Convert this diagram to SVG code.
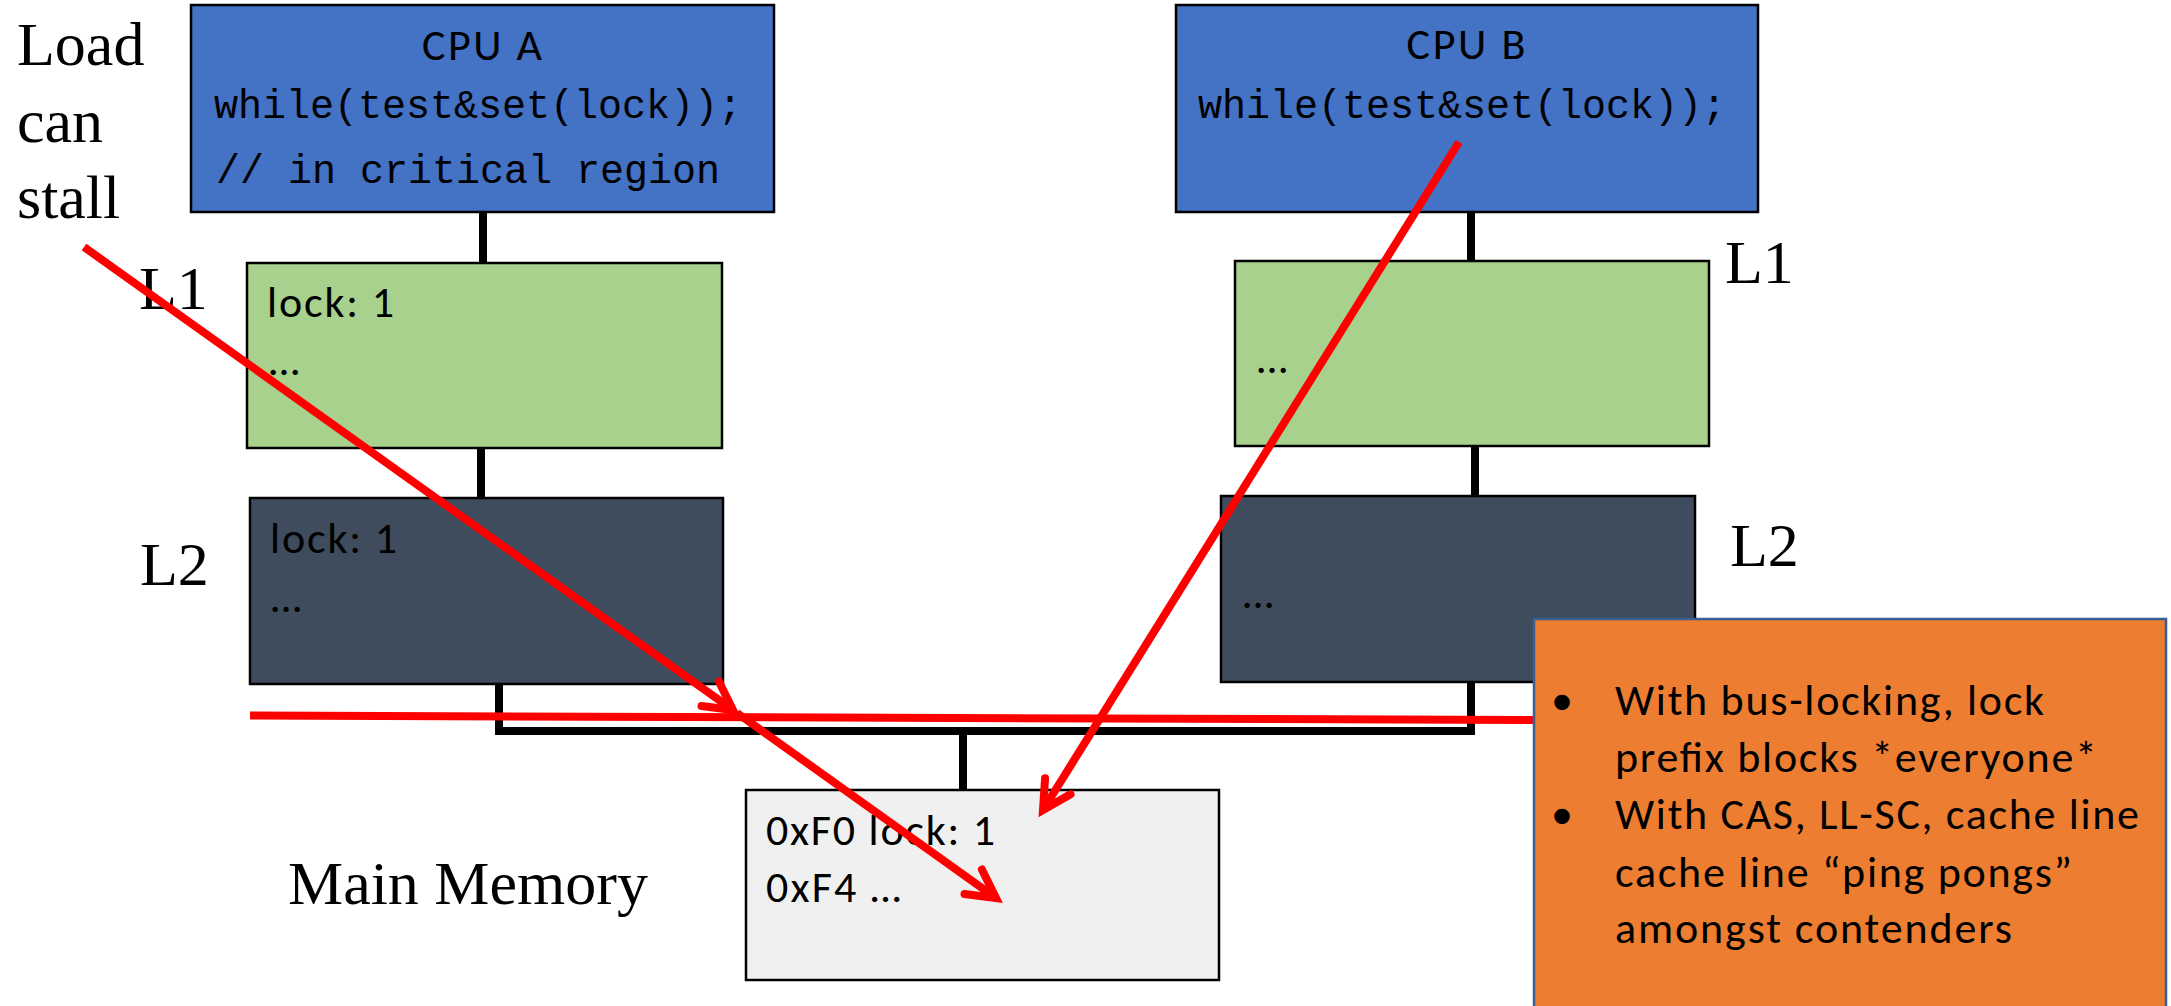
<svg xmlns="http://www.w3.org/2000/svg" width="2171" height="1006" viewBox="0 0 2171 1006">
  <style>
    .box { stroke: #000; stroke-width: 2.5; }
    .cpu { fill: #4472C4; }
    .l1 { fill: #A9D18E; }
    .l2 { fill: #3E4C5E; }
    .mem { fill: #F0F0F0; }
    .note { fill: #ED7D31; stroke: #3A5F95; stroke-width: 2.5; }
    .sans { font-family: Carlito, Lato, "Liberation Sans", sans-serif; font-size: 44px; fill: #000; }
    .mono { font-family: "Liberation Mono", "Courier New", monospace; font-size: 40px; fill: #000; }
    .serif { font-family: "Liberation Serif", "Times New Roman", serif; font-size: 62px; fill: #000; }
    .wire { fill: none; stroke: #000; stroke-width: 8; stroke-linejoin: miter; }
    .red { fill: none; stroke: #FF0000; stroke-width: 8; stroke-linecap: butt; }
  </style>
  <defs>
    <marker id="openArrow" markerUnits="userSpaceOnUse" orient="auto" viewBox="-40 -40 80 80" markerWidth="80" markerHeight="80" refX="0" refY="0" overflow="visible">
      <path d="M-28,-15 L0,0 L-28,15" fill="none" stroke="#FF0000" stroke-width="8" stroke-linecap="round" stroke-linejoin="miter"/>
    </marker>
  </defs>

  <rect width="2171" height="1006" fill="#fff"/>

  <!-- side labels -->
  <g id="labels" class="serif">
    <text x="17" y="65">Load</text>
    <text x="17" y="142">can</text>
    <text x="17" y="218">stall</text>
    <text x="139" y="309">L1</text>
    <text x="1725" y="283">L1</text>
    <text x="140" y="585">L2</text>
    <text x="1730" y="566">L2</text>
    <text x="288" y="904">Main Memory</text>
  </g>

  <!-- black bus and links between levels -->
  <g id="connectors">
    <line class="wire" x1="483" y1="212" x2="483" y2="263"/>
    <line class="wire" x1="481" y1="448" x2="481" y2="498"/>
    <line class="wire" x1="1471" y1="212" x2="1471" y2="261"/>
    <line class="wire" x1="1475" y1="446" x2="1475" y2="496"/>
    <path class="wire" d="M499,681 L499,731 L1471,731 L1471,680"/>
    <line class="wire" x1="963" y1="731" x2="963" y2="790"/>
  </g>

  <g id="cpu-a">
    <rect class="box cpu" x="191" y="5" width="583" height="207"/>
    <text class="sans" x="482" y="60" text-anchor="middle" textLength="120">CPU A</text>
    <text class="mono" x="214" y="118">while(test&amp;set(lock));</text>
    <text class="mono" x="216" y="183">// in critical region</text>
  </g>

  <g id="cpu-b">
    <rect class="box cpu" x="1176" y="5" width="582" height="207"/>
    <text class="sans" x="1466" y="59" text-anchor="middle" textLength="119">CPU B</text>
    <text class="mono" x="1198" y="118">while(test&amp;set(lock));</text>
  </g>

  <g id="l1-a">
    <rect class="box l1" x="247" y="263" width="475" height="185"/>
    <text class="sans" x="267" y="317" textLength="127">lock: 1</text>
    <text class="sans" x="269" y="375">…</text>
  </g>

  <g id="l1-b">
    <rect class="box l1" x="1235" y="261" width="474" height="185"/>
    <text class="sans" x="1257" y="373">…</text>
  </g>

  <g id="l2-a">
    <rect class="box l2" x="250" y="498" width="473" height="186"/>
    <text class="sans" x="270" y="553" textLength="127">lock: 1</text>
    <text class="sans" x="271" y="612">…</text>
  </g>

  <g id="l2-b">
    <rect class="box l2" x="1221" y="496" width="474" height="186"/>
    <text class="sans" x="1243" y="608">…</text>
  </g>

  <g id="memory">
    <rect class="box mem" x="746" y="790" width="473" height="190"/>
    <text class="sans" x="766" y="845" textLength="229">0xF0 lock: 1</text>
    <text class="sans" x="766" y="902" textLength="135">0xF4 …</text>
  </g>

  <!-- red annotation strokes -->
  <g id="annotations">
    <line class="red" x1="250" y1="715.5" x2="1560" y2="720"/>
    <line class="red" x1="84" y1="247" x2="733" y2="710" marker-end="url(#openArrow)"/>
    <line class="red" x1="737" y1="713" x2="996" y2="898" marker-end="url(#openArrow)"/>
    <line class="red" x1="1459" y1="142" x2="1043" y2="810" marker-end="url(#openArrow)"/>
  </g>

  <g id="note">
    <rect class="note" x="1534" y="619" width="632" height="400"/>
    <g class="sans">
      <text x="1562" y="715" text-anchor="middle">•</text>
      <text x="1615" y="715" textLength="429">With bus-locking, lock</text>
      <text x="1615" y="772" textLength="482">prefix blocks *everyone*</text>
      <text x="1562" y="829" text-anchor="middle">•</text>
      <text x="1615" y="829" textLength="524">With CAS, LL-SC, cache line</text>
      <text x="1615" y="887" textLength="457">cache line “ping pongs”</text>
      <text x="1615" y="943" textLength="397">amongst contenders</text>
    </g>
  </g>
</svg>
